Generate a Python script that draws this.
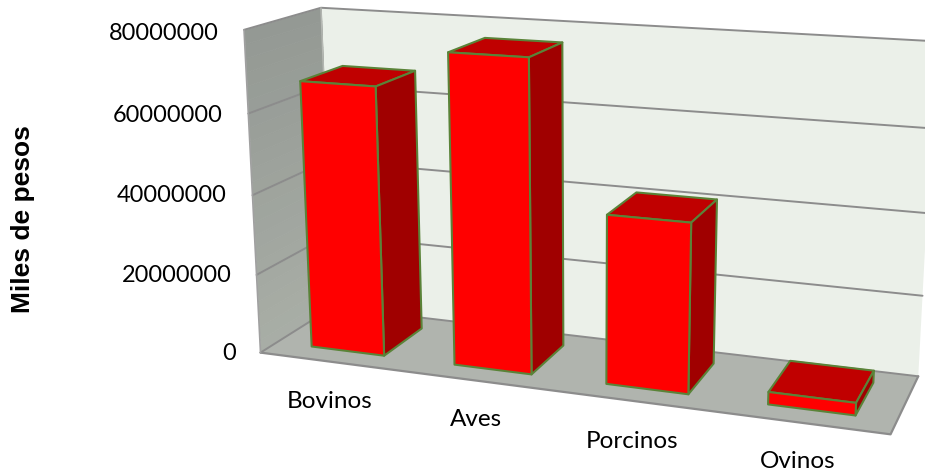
import numpy as np, pandas as pd, matplotlib
matplotlib.use("Agg")
import matplotlib.pyplot as plt, seaborn as sns
from mpl_toolkits.mplot3d.art3d import Poly3DCollection

especies = ["Bovinos", "Aves", "Porcinos", "Ovinos"]
valores = [67000000, 76200000, 41000000, 3000000]
ticks = [0, 20000000, 40000000, 60000000, 80000000]
tick_px = [(235, 352), (231, 275), (226, 194), (222, 114), (218, 32)]
cat_px = [(330, 401), (476, 420), (632, 442), (798, 462)]
ZMAX = 80000000
FRONT, BACK, BAR_W, SHIFT = 0.225, 0.8, 0.515, 0.0

sns.set_theme(style="white")
W, H = 925, 472
df = pd.DataFrame({"Especie": especies, "Valor": valores})

fig = plt.figure(figsize=(W/100, H/100), dpi=100, facecolor="white")
# seaborn lays out the bars; the 3D view re-draws them from that layout
helper = fig.add_axes([0, 0, .1, .1])
sns.barplot(data=df, x="Especie", y="Valor", width=BAR_W, color="#ff0000", ax=helper)
bars = [(p.get_x()+.5+SHIFT, p.get_width(), p.get_height()) for p in helper.patches]
helper.set_visible(False)

ax = fig.add_axes([0, 0, 1, 1], projection="3d", computed_zorder=False)
ax.set_xlim(0, 4); ax.set_ylim(0, 1); ax.set_zlim(0, ZMAX)
ax.set_axis_off()
ax.patch.set_alpha(0)
ax.view_init(14.8089, -70.3244, 0.0075)
ax.set_proj_type("persp", focal_length=float(np.exp(-0.8425)))
ax.set_box_aspect((1, 0.2441, 0.5161))
s, tx, ty = 3978.9, 583.0, 268.0
a, b = ax.viewLim.intervalx; c, d = ax.viewLim.intervaly
ax.set_position([(tx+s*a)/W, (ty+s*c)/H, s*(b-a)/W, s*(d-c)/H])

def poly(verts, fc, ec="none", lw=0, z=1):
    pc = Poly3DCollection([verts], facecolors=fc, edgecolors=ec, linewidths=lw, zorder=z)
    ax.add_collection3d(pc)

# walls and floor
poly([(0,1,0),(4,1,0),(4,1,ZMAX),(0,1,ZMAX)], "#ebf0e9", z=1)
n = 24
for i in range(n):
    z0, z1 = ZMAX*i/n, ZMAX*(i+1)/n
    t = i/(n-1)
    col = tuple(np.array([0.66,0.68,0.65])*(1-t)+np.array([0.58,0.60,0.58])*t)
    poly([(0,0,z0),(0,1,z0),(0,1,z1),(0,0,z1)], col, ec=col, lw=.5, z=1)
poly([(0,0,0),(4,0,0),(4,1,0),(0,1,0)], "#b0b4ae", z=2)

GRID = "#8c8c8c"
for t in ticks:
    ax.plot([0,0,4],[0,1,1],[t,t,t], color=GRID, lw=1.4, zorder=3)
ax.plot([0,4,4],[0,0,1],[0,0,0], color=GRID, lw=1.6, zorder=3)
ax.plot([0,0],[0,0],[0,ZMAX], color="#a0a0a0", lw=1.2, zorder=3)
ax.plot([0,0],[1,1],[0,ZMAX], color="#b5b8b3", lw=1.0, zorder=3)

# bars
EDGE = "#5a8338"
for k, (x0, w, h) in enumerate(bars):
    x1 = x0+w
    z = 10+k
    poly([(x0,FRONT,h),(x1,FRONT,h),(x1,BACK,h),(x0,BACK,h)], "#c00000", EDGE, 1.5, z)
    poly([(x1,FRONT,0),(x1,BACK,0),(x1,BACK,h),(x1,FRONT,h)], "#a00000", EDGE, 1.5, z)
    poly([(x0,FRONT,0),(x1,FRONT,0),(x1,FRONT,h),(x0,FRONT,h)], "#ff0000", EDGE, 1.5, z)

# text
FONT = "Lato"
for t, (px, py) in zip(ticks, tick_px):
    fig.text((px+1)/W, 1-(py+1)/H, str(t), ha="right", va="center", family=FONT, fontsize=16.9, color="black")
for e, (px, py) in zip(especies, cat_px):
    fig.text(px/W, 1-py/H, e, ha="center", va="center", family=FONT, fontsize=17.5, color="black")
fig.text(23/W, 1-219/H, "Miles de pesos", rotation=90, ha="center", va="center",
         family="Liberation Sans", fontweight="bold", fontsize=19, color="black")
fig.savefig("out.png", dpi=100)
